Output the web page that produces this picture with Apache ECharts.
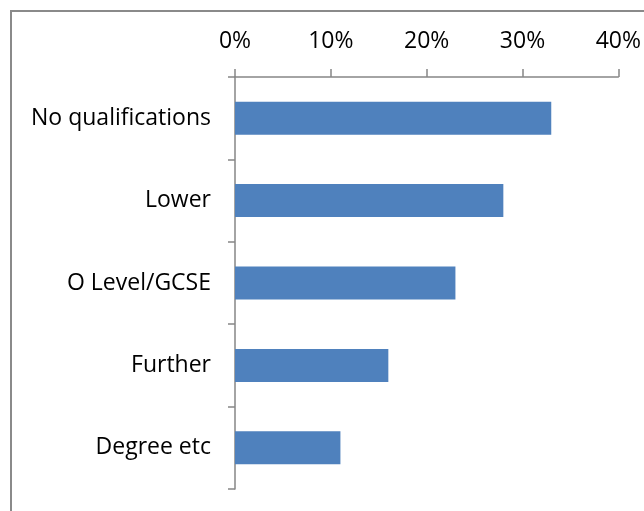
<!DOCTYPE html>
<html>
<head>
<meta charset="utf-8">
<script src="https://cdn.jsdelivr.net/npm/echarts@6/dist/echarts.min.js"></script>
<style>
html,body{margin:0;padding:0;background:#fff;}
#chart{width:644px;height:511px;}
</style>
</head>
<body>
<div id="chart"></div>
<script>
const categories = ["No qualifications", "Lower", "O Level/GCSE", "Further", "Degree etc"];
const values = [33, 28, 23, 16, 11];
const xTicks = [0, 10, 20, 30, 40];

const chart = echarts.init(document.getElementById('chart'), null, {renderer: 'canvas'});
const font = '"Open Sans", "Liberation Sans", sans-serif';
chart.setOption({
  animation: false,
  backgroundColor: '#fff',
  graphic: [{
    type: 'rect',
    shape: {x: 11, y: 11, width: 800, height: 700},
    style: {fill: 'none', stroke: '#8a8a8a', lineWidth: 2},
    silent: true
  }],
  grid: {left: 235, right: 23, top: 77, bottom: 22, containLabel: false},
  xAxis: {
    type: 'value',
    position: 'top',
    min: xTicks[0],
    max: xTicks[xTicks.length - 1],
    interval: xTicks[1] - xTicks[0],
    axisLine: {show: true, lineStyle: {color: '#868686', width: 1.5}},
    axisTick: {show: true, length: 8, lineStyle: {color: '#868686', width: 1.5}},
    splitLine: {show: false},
    axisLabel: {formatter: v => v + '%', color: '#000', fontSize: 23, fontFamily: font, margin: 24}
  },
  yAxis: {
    type: 'category',
    data: categories,
    inverse: true,
    axisLine: {show: true, lineStyle: {color: '#868686', width: 1.5}},
    axisTick: {show: true, length: 7, lineStyle: {color: '#868686', width: 1.5}},
    axisLabel: {color: '#000', fontSize: 23, fontFamily: font, margin: 24}
  },
  series: [{
    type: 'bar',
    data: values,
    barCategoryGap: '60%',
    itemStyle: {color: '#4F81BD'}
  }]
});
</script>
</body>
</html>
